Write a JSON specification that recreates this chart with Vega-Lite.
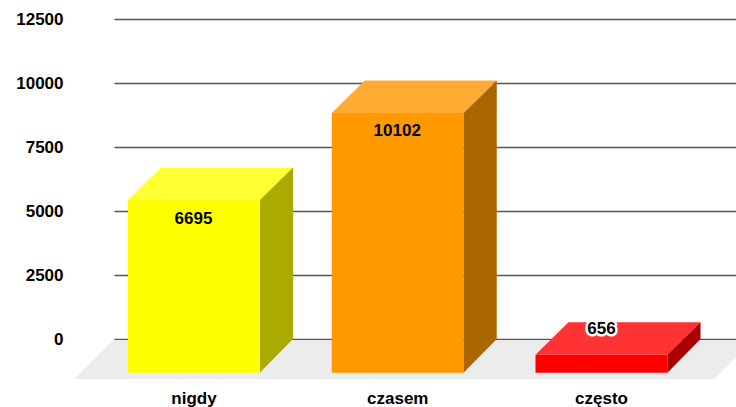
{"$schema":"https://vega.github.io/schema/vega-lite/v6.json","width":622,"height":320,"autosize":{"type":"none"},"padding":{"left":114,"top":19,"right":0,"bottom":68},"background":"white","config":{"view":{"stroke":null},"font":"Liberation Sans"},"data":{"values":[{"cat":"nigdy","value":6695},{"cat":"czasem","value":10102},{"cat":"często","value":656}]},"resolve":{"scale":{"fill":"independent"}},"encoding":{"x":{"field":"cat","type":"nominal","sort":["nigdy","czasem","często"],"scale":{"domain":["nigdy","czasem","często"],"paddingInner":0.5,"paddingOuter":0.2764,"align":0.258},"axis":{"title":null,"domain":false,"ticks":false,"grid":false,"labelAngle":0,"labelFont":"Liberation Sans","labelFontSize":17,"labelFontWeight":"bold","labelColor":"black","labelPadding":51}},"y":{"field":"value","type":"quantitative","stack":null,"scale":{"domain":[0,12500],"nice":false},"axis":{"title":null,"domain":false,"ticks":false,"values":[0,2500,5000,7500,10000,12500],"format":"d","grid":true,"gridColor":"#555555","gridWidth":1.3,"labelFont":"Liberation Sans","labelFontSize":17,"labelFontWeight":"bold","labelColor":"black","labelPadding":51}}},"layer":[{"mark":{"type":"point","filled":true,"opacity":1,"size":4,"strokeWidth":0,"fill":"#ececec","shape":"M-284,1 L356,1 L316,40 L-323,40 Z"},"encoding":{"x":{"datum":"czasem"},"y":{"datum":0}}},{"mark":{"type":"bar","width":132,"yOffset":32.5,"y2Offset":33.7},"encoding":{"y2":{"datum":0},"color":{"field":"cat","type":"nominal","legend":null,"scale":{"domain":["nigdy","czasem","często"],"range":["#ffff00","#ff9900","#ff0000"]}}}},{"mark":{"type":"point","filled":true,"opacity":1,"size":4,"strokeWidth":0,"shape":"M-66,32.5 L-33,0 L99,0 L66,32.5 Z"},"encoding":{"fill":{"field":"cat","type":"nominal","legend":null,"scale":{"domain":["nigdy","czasem","często"],"range":["#ffff33","#ffaa33","#ff3333"]}}}},{"mark":{"type":"point","filled":true,"opacity":1,"size":4,"strokeWidth":0},"encoding":{"fill":{"field":"cat","type":"nominal","legend":null,"scale":{"domain":["nigdy","czasem","często"],"range":["#aaaa00","#aa6600","#aa0000"]}},"shape":{"field":"cat","type":"nominal","legend":null,"scale":{"domain":["nigdy","czasem","często"],"range":["M66,32.5 L99,0 L99,171.4 L66,205 Z","M66,32.5 L99,0 L99,258.6 L66,292 Z","M66,32.5 L99,0 L99,16.8 L66,50.5 Z"]}}}},{"transform":[{"filter":"datum.value > 1000"}],"mark":{"type":"text","font":"Liberation Sans","fontSize":17,"fontWeight":"bold","color":"black","baseline":"middle","xOffset":-0.5,"yOffset":51},"encoding":{"text":{"field":"value","type":"quantitative","format":"d"}}},{"transform":[{"filter":"datum.value < 1000"}],"mark":{"type":"text","font":"Liberation Sans","fontSize":17,"fontWeight":"bold","stroke":"white","strokeWidth":5,"strokeJoin":"round","baseline":"middle","yOffset":7},"encoding":{"text":{"field":"value","type":"quantitative","format":"d"}}},{"transform":[{"filter":"datum.value < 1000"}],"mark":{"type":"text","font":"Liberation Sans","fontSize":17,"fontWeight":"bold","color":"black","baseline":"middle","yOffset":7},"encoding":{"text":{"field":"value","type":"quantitative","format":"d"}}}]}
